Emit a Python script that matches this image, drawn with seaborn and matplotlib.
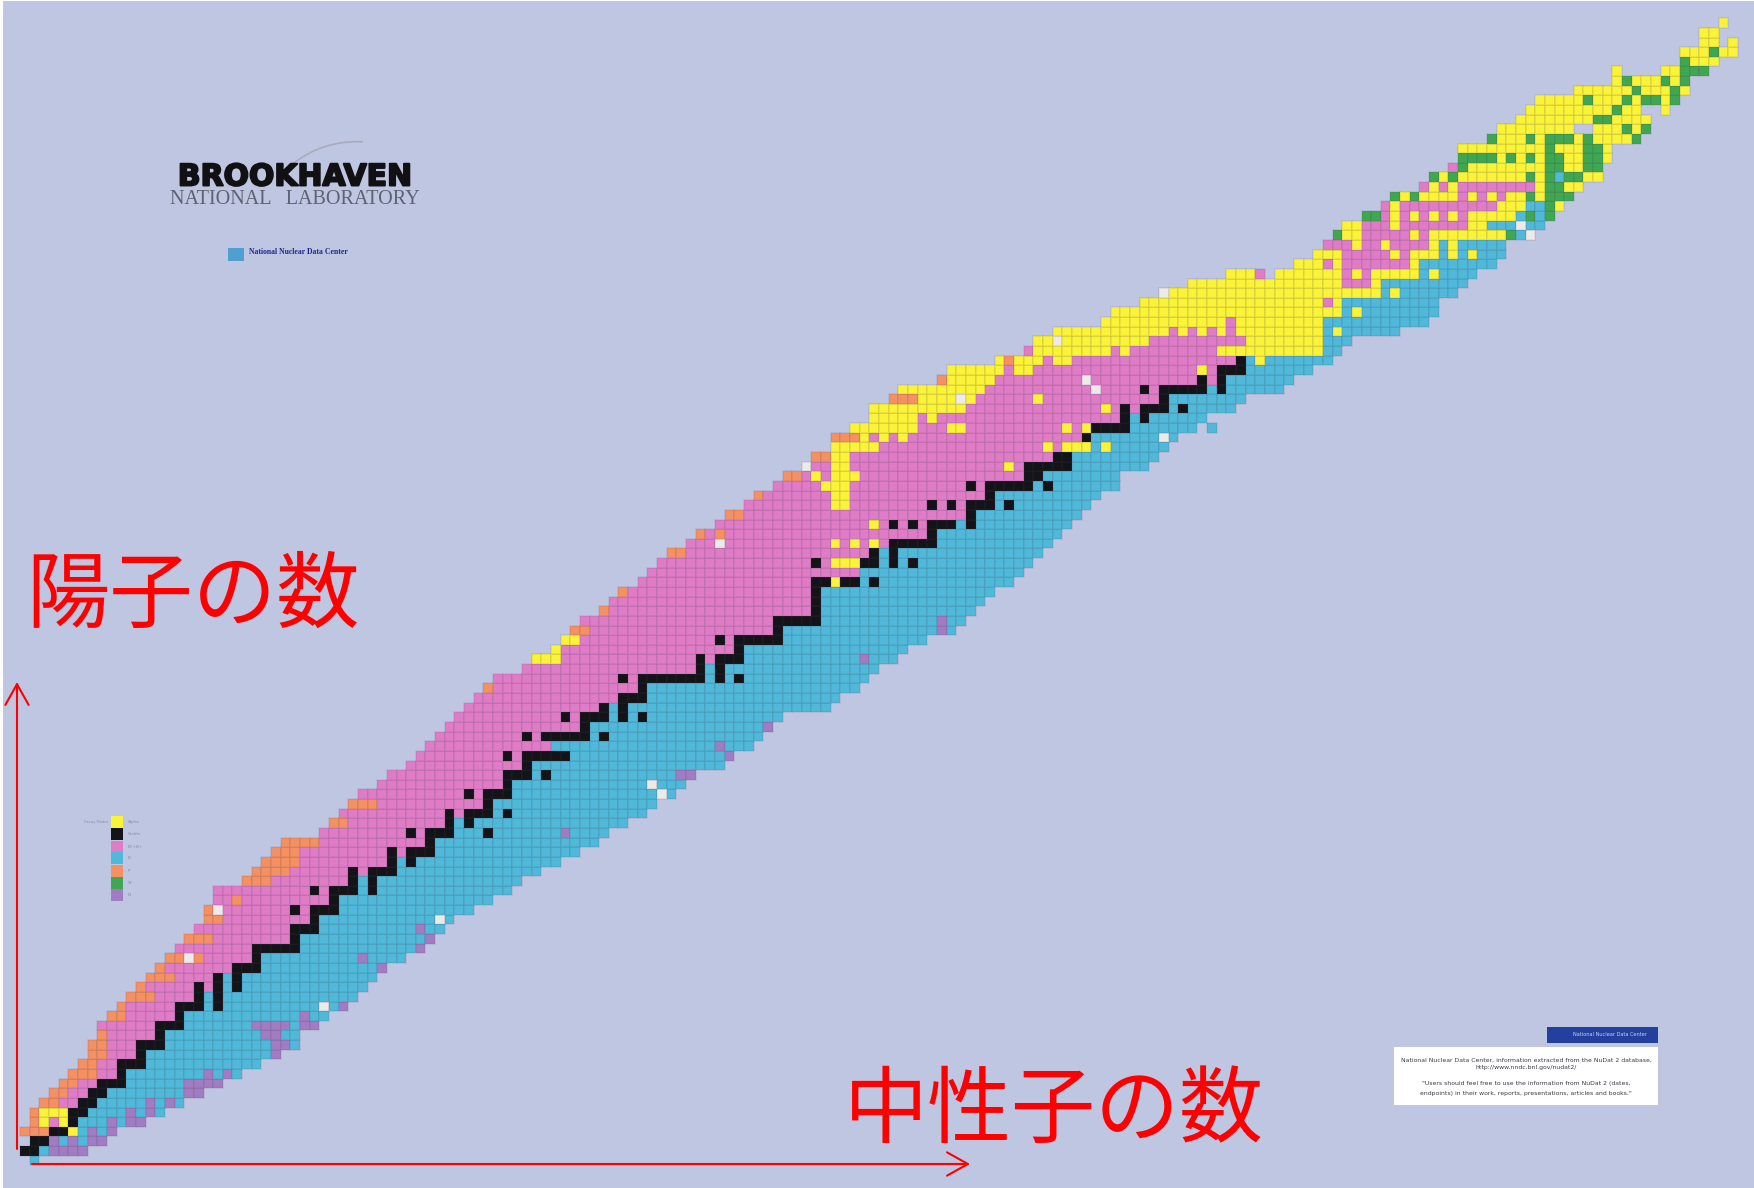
import numpy as np
import matplotlib
matplotlib.use('Agg')
import matplotlib.pyplot as plt
import matplotlib.patheffects as pe
from matplotlib.colors import ListedColormap
from matplotlib.patches import Rectangle
import seaborn as sns

# first / last neutron number drawn for Z = 0..118
left_n = [1, 0, 1, 0, 1, 1, 2, 3, 4, 5, 6, 7, 7, 8, 8, 9, 10, 11, 12, 13,
          14, 15, 16, 17, 18, 19, 19, 20, 20, 23, 24, 25, 26, 27, 31, 32, 33, 34, 35, 37,
          38, 40, 41, 42, 43, 44, 45, 46, 47, 48, 49, 52, 53, 55, 56, 57, 58, 60, 61, 62,
          64, 65, 66, 67, 69, 70, 72, 73, 75, 76, 78, 79, 81, 82, 84, 84, 86, 88, 88, 90,
          91, 95, 96, 101, 104, 105, 107, 112, 113, 116, 118, 121, 125, 132, 134, 135, 136, 137, 139, 141,
          142, 145, 146, 148, 149, 149, 152, 153, 155, 156, 157, 161, 165, 165, 172, 172, 174, 174, 176]
right_n = [1, 6, 8, 9, 12, 14, 16, 18, 20, 22, 24, 26, 28, 28, 30, 31, 33, 34, 35, 36,
           37, 39, 41, 42, 43, 44, 46, 48, 50, 51, 53, 55, 57, 59, 60, 62, 64, 65, 67, 68,
           69, 72, 73, 75, 76, 77, 78, 83, 84, 86, 87, 88, 90, 91, 93, 96, 97, 98, 99, 100,
           102, 103, 104, 105, 106, 107, 108, 109, 110, 111, 113, 113, 116, 117, 118, 119, 123, 122, 125, 126,
           130, 131, 133, 135, 136, 137, 142, 145, 146, 146, 148, 149, 150, 152, 153, 153, 156, 157, 158, 159,
           160, 161, 163, 163, 164, 164, 167, 168, 168, 170, 171, 172, 172, 174, 175, 177, 177, 175, 176]
# first neutron number of the beta-minus side of each row (200 = none)
cyan_from = [1, 2, 3, 5, 6, 7, 8, 9, 11, 11, 13, 13, 15, 15, 17, 17, 19, 19, 21, 21,
             25, 25, 29, 29, 31, 31, 33, 33, 35, 35, 39, 39, 43, 43, 45, 45, 49, 49, 51, 51,
             53, 53, 57, 55, 59, 59, 61, 61, 65, 65, 71, 71, 75, 75, 79, 79, 83, 83, 83, 83,
             87, 87, 89, 89, 95, 95, 97, 99, 101, 101, 105, 106, 109, 109, 111, 111, 115, 115, 119, 119,
             123, 125, 127, 127, 135, 135, 135, 135, 137, 137, 141, 141, 145, 145, 200, 200, 200, 200, 200, 200,
             200, 200, 200, 200, 200, 200, 200, 200, 200, 200, 200, 200, 200, 200, 200, 200, 200, 200, 200]

# stable nuclides: Z -> neutron numbers
stable = {
    1: [0, 1], 2: [1, 2], 3: [3, 4], 4: [5], 5: [5, 6], 6: [6, 7], 7: [7, 8], 8: [8, 9, 10], 9: [10],
    10: [10, 11, 12], 11: [12], 12: [12, 13, 14], 13: [14], 14: [14, 15, 16], 15: [16],
    16: [16, 17, 18, 20], 17: [18, 20], 18: [18, 20, 22], 19: [20, 22], 20: [22, 23, 24], 21: [24],
    22: [24, 25, 26, 27, 28], 23: [28], 24: [28, 29, 30], 25: [30], 26: [28, 30, 31, 32], 27: [32],
    28: [30, 32, 33, 34, 36], 29: [34, 36], 30: [34, 36, 37, 38], 31: [38, 40], 32: [38, 40, 41, 42],
    33: [42], 34: [40, 42, 43, 44, 48], 35: [44, 46], 36: [44, 46, 47, 48, 50], 37: [48],
    38: [46, 48, 49, 50], 39: [50], 40: [50, 51, 52, 54], 41: [52], 42: [50, 52, 53, 54, 55, 56],
    44: [52, 54, 55, 56, 57, 58, 60], 45: [58], 46: [56, 58, 59, 60, 62, 64], 47: [60, 62],
    48: [62, 63, 64], 49: [64], 50: [62, 64, 65, 66, 67, 68, 69, 70, 72, 74], 51: [70, 72],
    52: [70, 72, 73, 74], 53: [74], 54: [72, 74, 75, 76, 77, 78], 55: [78], 56: [78, 79, 80, 81, 82],
    57: [82], 58: [82], 59: [82], 60: [82, 83, 85, 86, 88], 62: [82, 87, 88, 90, 92], 63: [88, 90],
    64: [90, 91, 92, 93, 94], 65: [94], 66: [90, 92, 94, 95, 96, 98], 67: [98],
    68: [94, 96, 98, 99, 100, 102], 69: [100], 70: [98, 100, 101, 102, 103, 104, 106], 71: [104, 105],
    72: [104, 105, 106, 107, 108], 73: [107, 108], 75: [110], 76: [111, 112, 113, 114], 77: [114, 116],
    78: [114, 116, 117, 118, 120], 79: [118], 80: [116, 118, 119, 120, 121, 122, 124], 81: [122, 124],
    82: [124, 125, 126], 83: [126],
}

# decay mode runs as (Z, first N, last N)
alpha_runs = [
    (3, 5, 5), (4, 2, 2), (4, 4, 4), (5, 2, 4), (52, 53, 55), (53, 55, 55), (54, 56, 57), (60, 84, 84),
    (62, 84, 86), (64, 84, 84), (64, 86, 86), (64, 88, 88), (66, 88, 88), (68, 84, 85), (69, 84, 85),
    (70, 83, 85), (71, 82, 82), (71, 84, 86), (72, 84, 85), (72, 102, 102), (73, 84, 85), (74, 84, 88),
    (74, 106, 106), (74, 108, 110), (74, 112, 112), (75, 87, 87), (75, 89, 89), (75, 91, 91),
    (76, 86, 92), (76, 96, 97), (76, 108, 108), (76, 110, 110), (77, 88, 92), (77, 94, 94),
    (78, 88, 97), (78, 112, 112), (79, 93, 96), (79, 98, 98), (79, 105, 105), (80, 91, 99), (81, 96, 100),
    (82, 96, 101), (82, 103, 104), (82, 122, 122), (83, 101, 101), (83, 103, 105), (83, 107, 108),
    (83, 128, 128), (86, 136, 136), (88, 138, 138), (90, 142, 142), (92, 146, 146),
]
proton_runs = [
    (3, 0, 2), (4, 1, 1), (5, 1, 1), (6, 2, 3), (7, 3, 4), (8, 4, 5), (9, 5, 7), (10, 6, 7), (11, 7, 8),
    (12, 7, 8), (13, 8, 8), (15, 9, 10), (16, 10, 10), (17, 11, 13), (18, 12, 12), (19, 13, 15), (20, 14, 14),
    (21, 15, 16), (21, 18, 18), (23, 17, 19), (25, 19, 20), (26, 19, 19), (27, 22, 22), (29, 23, 25),
    (30, 24, 27), (31, 25, 28), (32, 26, 28), (33, 27, 30), (35, 32, 33), (37, 34, 36), (49, 48, 48),
    (55, 57, 58), (57, 60, 60), (59, 62, 62), (63, 67, 68), (65, 70, 70), (65, 72, 72), (67, 73, 74),
    (69, 76, 76), (71, 79, 80), (73, 82, 83), (75, 84, 86), (79, 90, 92), (81, 95, 95), (83, 102, 102),
]
neutron_runs = [
    (1, 3, 6), (2, 3, 3), (2, 5, 5), (2, 7, 8), (3, 7, 7), (3, 9, 9), (4, 9, 9), (4, 11, 12), (5, 11, 11),
    (5, 13, 13), (6, 13, 13), (6, 15, 15), (7, 17, 18), (8, 17, 20), (9, 19, 19), (9, 21, 21), (11, 26, 26),
    (12, 26, 27), (13, 25, 26), (14, 24, 27), (14, 29, 30), (15, 29, 29), (16, 33, 33), (20, 37, 37),
    (21, 35, 35), (22, 41, 41), (23, 42, 42), (24, 41, 41), (34, 56, 56), (40, 68, 69), (42, 73, 73),
    (43, 72, 72), (45, 77, 77), (52, 87, 87), (55, 95, 95), (56, 95, 95),
]
fission_runs = [
    (96, 136, 136), (96, 154, 154), (98, 139, 140), (98, 156, 156), (98, 158, 158), (99, 158, 158),
    (100, 142, 142), (100, 144, 144), (100, 156, 156), (100, 158, 160), (101, 158, 159), (102, 146, 146),
    (102, 148, 148), (102, 156, 156), (102, 158, 158), (102, 160, 161), (103, 149, 149), (103, 158, 159),
    (103, 162, 163), (104, 149, 152), (104, 154, 154), (104, 156, 156), (104, 158, 159), (104, 162, 163),
    (105, 158, 158), (105, 162, 163), (106, 152, 152), (106, 156, 156), (106, 158, 160), (106, 162, 162),
    (106, 167, 167), (107, 166, 166), (107, 168, 168), (108, 163, 164), (109, 165, 165), (110, 162, 162),
    (110, 166, 166), (110, 168, 169), (110, 171, 171), (111, 167, 167), (111, 171, 171), (112, 166, 166),
    (112, 170, 170), (112, 172, 172), (113, 172, 174), (114, 172, 172), (115, 175, 175),
]
# pink cells in the rows that are mostly alpha
ec_runs = [
    (84, 104, 104), (84, 113, 113), (84, 115, 123), (85, 117, 126), (86, 119, 119), (86, 121, 121),
    (86, 123, 123), (86, 125, 125), (87, 125, 125), (89, 135, 135), (91, 137, 139), (92, 128, 128),
    (92, 137, 137), (92, 139, 139), (93, 135, 135), (93, 137, 143), (94, 137, 141), (94, 143, 143),
    (95, 135, 137), (95, 139, 140), (95, 142, 145), (96, 139, 143), (96, 145, 145), (97, 139, 141),
    (97, 143, 149), (98, 141, 141), (98, 143, 143), (98, 145, 145), (98, 147, 147), (98, 149, 149),
    (99, 141, 141), (99, 143, 152), (100, 149, 149), (100, 151, 151), (100, 153, 153), (101, 145, 145),
    (101, 147, 147), (101, 149, 156), (103, 148, 148),
]
beta_runs = [
    (94, 147, 147), (94, 149, 149), (94, 151, 153), (95, 147, 147), (95, 149, 153), (96, 155, 155),
    (97, 152, 154), (97, 156, 157), (98, 155, 155), (98, 157, 157), (99, 156, 157), (102, 159, 159),
]
unknown_runs = [
    (16, 31, 31), (21, 17, 17), (25, 43, 43), (26, 20, 20), (38, 66, 66), (39, 65, 65), (64, 72, 72),
    (72, 81, 81), (75, 118, 118), (79, 97, 97), (81, 110, 110), (80, 111, 111), (85, 107, 107),
    (90, 118, 118), (96, 156, 156), (97, 155, 155),
]
empty_runs = [
    (76, 122, 122), (92, 129, 129), (107, 161, 162), (109, 168, 169), (113, 166, 169), (116, 176, 176),
]
legend_names = ['Alpha', 'Stable', 'EC+B+', 'B-', 'P', 'SF', 'N']

colors = ['#fbf338', '#141418', '#e07cc6', '#50b8d8', '#f59062', '#3fa651', '#a27cc2', '#eeeae8']
bg = '#bfc6e2'

grid = np.full((119, 178), np.nan)
for z in range(119):
    base = 0 if z >= 84 else 2
    grid[z, left_n[z]:right_n[z] + 1] = base
    start = max(cyan_from[z], left_n[z])
    if start <= right_n[z]:
        grid[z, start:right_n[z] + 1] = 3


def paint(runs, code):
    for z, a, b in runs:
        grid[z, a:b + 1] = code


paint(alpha_runs, 0)
paint(proton_runs, 4)
paint(ec_runs, 2)
paint(fission_runs, 5)
paint(neutron_runs, 6)
paint(beta_runs, 3)
paint(unknown_runs, 7)
for z, ns in stable.items():
    grid[z, ns] = 1
for z, a, b in empty_runs:
    grid[z, a:b + 1] = np.nan

sns.set_theme(style='white')
plt.rcParams['font.family'] = ['Noto Sans CJK JP', 'DejaVu Sans']

W, H = 1754, 1188
fig = plt.figure(figsize=(W / 100, H / 100), dpi=100, facecolor='white')
fig.patches.append(Rectangle((3 / W, 0), 1 - 3 / W, 1 - 1 / H, transform=fig.transFigure,
                             facecolor=bg, edgecolor='none', zorder=-5))
ax = fig.add_axes([0, 0, 1, 1])
ax.patch.set_alpha(0)
mask = np.isnan(grid)
sns.heatmap(grid, mask=mask, cmap=ListedColormap(colors), vmin=-0.5, vmax=7.5, cbar=False,
            linewidths=0.3, ax=ax)
# faint cell borders only where a nuclide exists
edges = np.zeros((grid.size, 4))
edges[~mask.ravel()] = (0.25, 0.25, 0.35, 0.09)
ax.collections[0].set_edgecolors(edges)
# one nuclide = 9.65 px across, 9.64 px high
ax.set_xlim(0.5 - 25 / 9.65, 0.5 + (W - 25) / 9.65)
ax.set_ylim(0.5 + (1160.6 - H) / 9.64, 0.5 + 1160.6 / 9.64)
ax.set_axis_off()


def fx(px):
    return px / W


def fy(py):
    return 1 - py / H


def label(px, py, s, **kw):
    return fig.text(fx(px), fy(py), s, **kw)


# axis captions and arrows
label(193, 597, '陽子の数', color='#ff0000', fontsize=60, ha='center', va='center')
label(1054, 1112, '中性子の数', color='#ff0000', fontsize=60.5, ha='center', va='center')
arrow = dict(arrowstyle='->,head_length=1.25,head_width=0.7', color='#ff0000', lw=1.5, shrinkA=0, shrinkB=0)
ax.annotate('', xy=(fx(17), fy(682)), xytext=(fx(17), fy(1149)), xycoords='figure fraction',
            textcoords='figure fraction', arrowprops=arrow)
ax.annotate('', xy=(fx(970), fy(1164)), xytext=(fx(32), fy(1164)), xycoords='figure fraction',
            textcoords='figure fraction', arrowprops=arrow)

# logo block
logo = label(295, 177, 'BROOKHAVEN', family='DejaVu Sans', weight='bold', fontsize=21.5, color='#111114',
             ha='center', va='center')
logo.set_path_effects([pe.withStroke(linewidth=1.4, foreground='#111114')])
label(295, 199, 'NATIONAL   LABORATORY', family='Liberation Serif', fontsize=14.5, color='#5d6272',
      ha='center', va='center')
ax.annotate('', xy=(fx(365), fy(142)), xytext=(fx(290), fy(166)), xycoords='figure fraction',
            textcoords='figure fraction',
            arrowprops=dict(arrowstyle='-', color='#a8acba', lw=1.2, connectionstyle='arc3,rad=-0.2'))
fig.patches.append(Rectangle((fx(228), fy(261)), 16 / W, 13 / H, transform=fig.transFigure,
                             facecolor='#4f9fd0', edgecolor='none'))
label(298, 252, 'National Nuclear Data Center', family='Liberation Serif', weight='bold', fontsize=5.6,
      color='#1c2a8c', ha='center', va='center')

# legend, drawn very small in the original
for name, col, yy in zip(legend_names, colors, [822, 834, 847, 858, 871, 883, 895]):
    fig.patches.append(Rectangle((fx(111), fy(yy + 6)), 12 / W, 12 / H, transform=fig.transFigure,
                                 facecolor=col, edgecolor='none'))
    label(128, yy, name, family='DejaVu Sans', fontsize=3, color='#8a8fa4', va='center')
label(108, 822, 'Decay Modes', family='DejaVu Sans', fontsize=2.6, color='#8a8fa4', ha='right', va='center')

# credit box
fig.patches.append(Rectangle((fx(1547), fy(1043)), 111 / W, 16 / H, transform=fig.transFigure,
                             facecolor='#23409e', edgecolor='none'))
label(1610, 1035, 'National Nuclear Data Center', family='DejaVu Sans', fontsize=3.6, color='#c8d0f0',
      ha='center', va='center')
fig.patches.append(Rectangle((fx(1394), fy(1105)), 264 / W, 58 / H, transform=fig.transFigure,
                             facecolor='white', edgecolor='none'))
box_lines = [
    (1060, 'National Nuclear Data Center, information extracted from the NuDat 2 database,'),
    (1068, 'http://www.nndc.bnl.gov/nudat2/'),
    (1084, '"Users should feel free to use the information from NuDat 2 (dates,'),
    (1093, 'endpoints) in their work, reports, presentations, articles and books."'),
]
for yy, line in box_lines:
    label(1526, yy, line, family='DejaVu Sans', fontsize=4.4, color='#3a3a46', ha='center', va='center')

fig.savefig('out.png', dpi=100, facecolor='white')
